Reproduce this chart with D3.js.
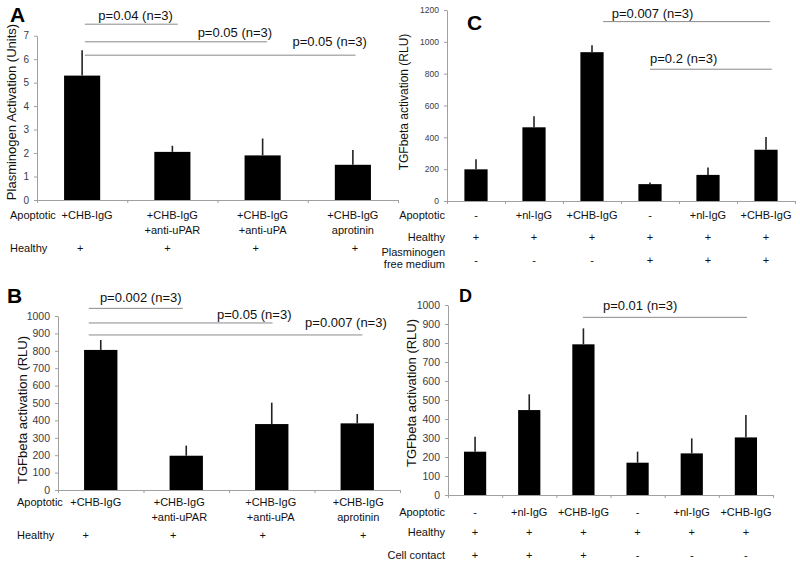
<!DOCTYPE html>
<html>
<head>
<meta charset="utf-8">
<script src="https://cdn.jsdelivr.net/npm/d3@7"></script>
<style>
  body { margin: 0; background: #fff; }
  svg { display: block; font-family: "Liberation Sans", Arial, sans-serif; }
</style>
</head>
<body>
<svg width="800" height="564"></svg>
<script>
// Panel A - plasminogen activation
var aApoptotic = [["+CHB-IgG"], ["+CHB-IgG", "+anti-uPAR"], ["+CHB-IgG", "+anti-uPA"], ["+CHB-IgG", "aprotinin"]];
var aHealthy = ["+", "+", "+", "+"];
var aValues = [5.3, 2.05, 1.9, 1.5];
var aErrors = [1.08, 0.26, 0.72, 0.63];
var aTicks = [0, 1, 2, 3, 4, 5, 6, 7];
var aPValues = ["p=0.04 (n=3)", "p=0.05 (n=3)", "p=0.05 (n=3)"];

// Panel B - TGFbeta, same treatments
var bApoptotic = aApoptotic;
var bHealthy = ["+", "+", "+", "+"];
var bValues = [805, 197, 379, 383];
var bErrors = [57, 58, 123, 54];
var bTicks = [0, 100, 200, 300, 400, 500, 600, 700, 800, 900, 1000];
var bPValues = ["p=0.002 (n=3)", "p=0.05 (n=3)", "p=0.007 (n=3)"];

// Panel C - plasminogen free medium
var cApoptotic = [["-"], ["+nl-IgG"], ["+CHB-IgG"], ["-"], ["+nl-IgG"], ["+CHB-IgG"]];
var cHealthy = ["+", "+", "+", "+", "+", "+"];
var cPlasminogenFree = ["-", "-", "-", "+", "+", "+"];
var cValues = [199, 463, 935, 106, 164, 322];
var cErrors = [63, 70, 44, 11, 47, 80];
var cTicks = [0, 200, 400, 600, 800, 1000, 1200];
var cPValues = ["p=0.007 (n=3)", "p=0.2 (n=3)"];

// Panel D - cell contact
var dApoptotic = cApoptotic;
var dHealthy = ["+", "+", "+", "+", "+", "+"];
var dCellContact = ["+", "+", "+", "-", "-", "-"];
var dValues = [228, 447, 793, 170, 219, 303];
var dErrors = [79, 83, 84, 58, 79, 118];
var dTicks = [0, 100, 200, 300, 400, 500, 600, 700, 800, 900, 1000];
var dPValues = ["p=0.01 (n=3)"];

var svg = d3.select("svg");

var panels = [
  {
    letter: "A", letterPos: [10, 22], letterSize: 21,
    yLabel: "Plasminogen Activation (Units)", yLabelPos: [15.5, 112], yLabelSize: 13,
    values: aValues, errors: aErrors, ticks: aTicks, tickSize: 10,
    xRange: [37, 398], yDomain: [0, 7], yRange: [200, 35.7], barFrac: 0.4,
    rowLabelX: 10, rowAnchor: "start",
    rows: [
      { label: ["Apoptotic"], y: 215, cells: aApoptotic, dx: [5, 0, 0, 0] },
      { label: ["Healthy"], y: 248, cells: aHealthy.map((d) => [d]), dx: [-2, -5, -7, 2] },
    ],
    sig: [
      { text: aPValues[0], x1: 0.53, x2: 1.56, y: 7.49, tx: 0.68, dy: 3.8 },
      { text: aPValues[1], x1: 0.53, x2: 2.55, y: 6.74, tx: 1.78, dy: 4.4 },
      { text: aPValues[2], x1: 0.53, x2: 3.53, y: 6.17, tx: 2.83, dy: 9.5 },
    ],
  },
  {
    letter: "B", letterPos: [7, 303], letterSize: 21,
    yLabel: "TGFbeta activation (RLU)", yLabelPos: [27, 410], yLabelSize: 13,
    values: bValues, errors: bErrors, ticks: bTicks, tickSize: 10.5,
    xRange: [58, 400], yDomain: [0, 1000], yRange: [490, 316], barFrac: 0.39,
    rowLabelX: 17, rowAnchor: "start",
    rows: [
      { label: ["Apoptotic"], y: 501.7, cells: bApoptotic, dx: [-5, -7, -1, 1] },
      { label: ["Healthy"], y: 535, cells: bHealthy.map((d) => [d]), dx: [-15, -13, -9, 6] },
    ],
    sig: [
      { text: bPValues[0], x1: 0.36, x2: 1.46, y: 1044, tx: 0.49, dy: 6.4 },
      { text: bPValues[1], x1: 0.36, x2: 2.51, y: 960, tx: 1.86, dy: 3.7 },
      { text: bPValues[2], x1: 0.36, x2: 3.56, y: 891, tx: 2.89, dy: 8.3 },
    ],
  },
  {
    letter: "C", letterPos: [467, 30], letterSize: 21,
    yLabel: "TGFbeta activation (RLU)", yLabelPos: [408, 102], yLabelSize: 12,
    values: cValues, errors: cErrors, ticks: cTicks, tickSize: 8.5,
    xRange: [447, 795], yDomain: [0, 1200], yRange: [201, 10], barFrac: 0.4,
    rowLabelX: 445, rowAnchor: "end",
    rows: [
      { label: ["Apoptotic"], y: 215, cells: cApoptotic },
      { label: ["Healthy"], y: 236.7, cells: cHealthy.map((d) => [d]) },
      { label: ["Plasminogen", "free medium"], y: 251.7, cellY: 260, cells: cPlasminogenFree.map((d) => [d]) },
    ],
    sig: [
      { text: cPValues[0], x1: 2.69, x2: 5.57, y: 1127, tx: 2.84, dy: 3.4 },
      { text: cPValues[1], x1: 3.5, x2: 5.6, y: 828, tx: 3.5, dy: 6.6 },
    ],
  },
  {
    letter: "D", letterPos: [459, 302], letterSize: 18,
    yLabel: "TGFbeta activation (RLU)", yLabelPos: [416, 393], yLabelSize: 13,
    values: dValues, errors: dErrors, ticks: dTicks, tickSize: 10.5,
    xRange: [448, 773], yDomain: [0, 1000], yRange: [495, 305], barFrac: 0.41,
    rowLabelX: 445, rowAnchor: "end",
    rows: [
      { label: ["Apoptotic"], y: 511.7, cells: dApoptotic },
      { label: ["Healthy"], y: 531.7, cells: dHealthy.map((d) => [d]) },
      { label: ["Cell contact"], y: 555, cells: dCellContact.map((d) => [d]) },
    ],
    sig: [
      { text: dPValues[0], x1: 2.49, x2: 5.52, y: 935, tx: 2.86, dy: 7.3 },
    ],
  },
];

panels.forEach(function (p) {
  var n = p.values.length;
  var g = svg.append("g").attr("class", "panel");

  var x = d3.scaleBand().domain(d3.range(n)).range(p.xRange);
  // continuous category units, used for axis ticks and the p-value brackets
  var cat = d3.scaleLinear().domain([0, n]).range(p.xRange);
  var y = d3.scaleLinear().domain(p.yDomain).range(p.yRange);
  var bw = x.bandwidth() * p.barFrac;

  // y axis
  var yAxis = g.append("g")
    .attr("transform", "translate(" + p.xRange[0] + ",0)")
    .call(
      d3.axisLeft(y)
        .tickValues(p.ticks)
        .tickFormat(d3.format("d"))
        .tickSize(3)
        .tickSizeOuter(0)
        .tickPadding(5)
    );
  yAxis.select(".domain").attr("stroke", "#a0a0a0");
  yAxis.selectAll(".tick line").attr("stroke", "#a0a0a0");
  yAxis.selectAll(".tick text")
    .attr("fill", "#3a3a4a")
    .style("font-size", p.tickSize + "px")
    .style("font-family", "\"Liberation Sans\", Arial, sans-serif");

  // x axis with ticks on the category boundaries
  var xAxis = g.append("g")
    .attr("transform", "translate(0," + y(0) + ")")
    .call(d3.axisBottom(cat).tickValues(d3.range(n + 1)).tickSize(3).tickSizeOuter(0).tickFormat(""));
  xAxis.select(".domain").attr("stroke", "#a0a0a0");
  xAxis.selectAll(".tick line").attr("stroke", "#a0a0a0");

  // bars
  g.selectAll(".bar")
    .data(p.values)
    .enter()
    .append("rect")
    .attr("class", "bar")
    .attr("x", (d, i) => x(i) + (x.bandwidth() - bw) / 2)
    .attr("y", (d) => y(d))
    .attr("width", bw)
    .attr("height", (d) => y(0) - y(d))
    .attr("fill", "#000");

  // upper error bars
  g.selectAll(".err")
    .data(p.values)
    .enter()
    .append("line")
    .attr("class", "err")
    .attr("x1", (d, i) => x(i) + x.bandwidth() / 2)
    .attr("x2", (d, i) => x(i) + x.bandwidth() / 2)
    .attr("y1", (d) => y(d))
    .attr("y2", (d, i) => y(d + p.errors[i]))
    .attr("stroke", "#222")
    .attr("stroke-width", 1.6);

  // significance brackets
  p.sig.forEach(function (s) {
    g.append("line")
      .attr("x1", cat(s.x1))
      .attr("x2", cat(s.x2))
      .attr("y1", y(s.y))
      .attr("y2", y(s.y))
      .attr("stroke", "#8a8a8a")
      .attr("stroke-width", 1);
    g.append("text")
      .attr("x", cat(s.tx))
      .attr("y", y(s.y) - s.dy)
      .style("font-size", "13px")
      .attr("fill", "#111")
      .text(s.text);
  });

  // condition rows under the axis
  p.rows.forEach(function (r) {
    var label = g.append("text")
      .attr("x", p.rowLabelX)
      .attr("y", r.y + 4)
      .attr("text-anchor", p.rowAnchor)
      .style("font-size", "11px")
      .attr("fill", "#111");
    r.label.forEach(function (t, k) {
      label.append("tspan")
        .attr("x", p.rowLabelX)
        .attr("dy", k === 0 ? 0 : 12.3)
        .text(t);
    });

    var cy = r.cellY !== undefined ? r.cellY : r.y;
    r.cells.forEach(function (lines, i) {
      var cx = x(i) + x.bandwidth() / 2 + (r.dx ? r.dx[i] : 0);
      var t = g.append("text")
        .attr("x", cx)
        .attr("y", cy + 4)
        .attr("text-anchor", "middle")
        .style("font-size", "11px")
        .attr("fill", "#111");
      lines.forEach(function (line, k) {
        t.append("tspan")
          .attr("x", cx)
          .attr("dy", k === 0 ? 0 : 15)
          .text(line);
      });
    });
  });

  // y axis title
  g.append("text")
    .attr("transform", "translate(" + p.yLabelPos[0] + "," + p.yLabelPos[1] + ") rotate(-90)")
    .attr("text-anchor", "middle")
    .style("font-size", p.yLabelSize + "px")
    .attr("fill", "#111")
    .text(p.yLabel);

  // panel letter
  g.append("text")
    .attr("x", p.letterPos[0])
    .attr("y", p.letterPos[1])
    .style("font-size", p.letterSize + "px")
    .style("font-weight", "bold")
    .attr("fill", "#000")
    .text(p.letter);
});
</script>
</body>
</html>
